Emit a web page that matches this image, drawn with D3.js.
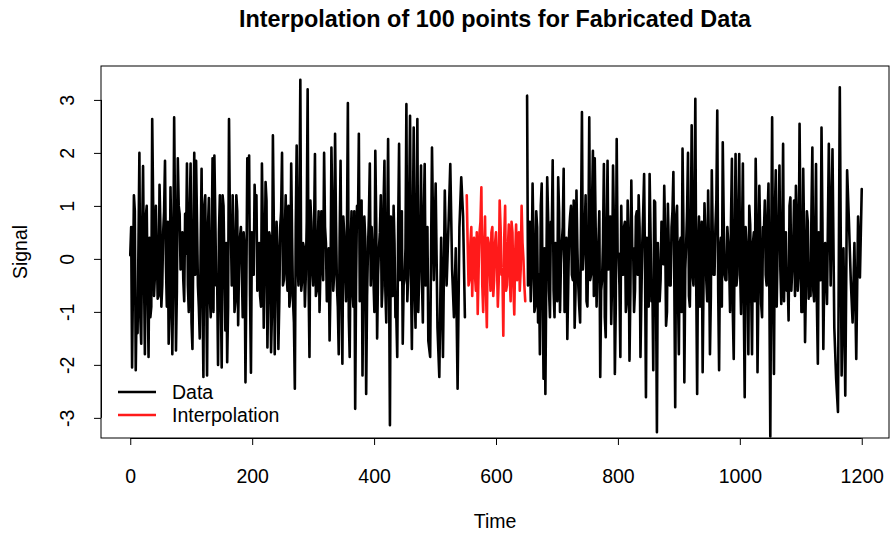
<!DOCTYPE html>
<html>
<head>
<meta charset="utf-8">
<script src="https://cdn.jsdelivr.net/npm/d3@7"></script>
<style>
  body { margin: 0; background: #fff; }
  text { font-family: "Liberation Sans", Arial, Helvetica, sans-serif; fill: #000; }
</style>
</head>
<body>
<div id="chart"></div>
<script>
// values: the spikes every 3 time units,
// plus the in-between values of the dense band 1.5 units later
var timeStep = 3;
var dataStartA = 0;
var interpStart = 552;
var dataStartB = 651;

var signalA = [
  0.07, -2.05, 1.2, -2.1, -1.4, 2.0, -1.6, 1.75, -1.8, 1.0, -1.85, -1.1, 2.64, -0.7, 1.0, -0.75, 1.4, -0.9, 0.5, 1.85,
  -0.9, -1.6, 1.35, -1.8, 2.67, -1.73, 1.9, 0.85, 0.0, -0.4, 0.85, 1.8, -1.0, 1.8, -1.7, 2.0,
  1.85, -0.5, -1.5, 1.7, -2.23, 1.2, -2.2, 1.15, -1.1, 1.9, 1.95, -0.5, -2.0, 1.2, -2.05, 1.0, -1.35, -1.95, 2.64, 0.6,
  1.2, -1.0, 1.2, -1.25, 0.4, -0.2, 0.5, -2.33, 1.9, 1.95, -2.15, 0.0, 1.4, 1.2, -0.1,
  -0.7, 1.8, -1.3, 1.45, -1.67, 0.5, -1.76, 2.33, -1.8, 0.7, -1.7, 0.6, 2.0, -0.4, 1.2, -0.6, -0.9, 1.8, -0.8, -2.45,
  2.14, -0.5, 3.38, -0.4, 0.2, -0.3, 3.2, -1.85, 0.7, -0.5, 1.98, -0.6, 0.9, -0.2, 0.0, 2.0,
  0.3, -0.8, -1.54, 2.1, -0.6, 2.36, -0.5, -1.8, 1.85, -1.98, 0.5, -0.8, 2.94, -1.85, 0.9, -0.9, -2.83, 1.0, 2.36, -0.3,
  -2.2, 0.8, -2.55, 0.2, 1.8, 0.6, -0.4, 2.04, -1.5, 0.2, 1.2, -0.5, 1.85, -1.2, 2.26, -3.14, 0.5,
  1.0, -1.1, -1.85, 2.17, 0.3, -1.6, -0.4, 2.92, -0.3, 2.7, -1.7, 2.48, -1.3, 2.64, -0.3, 1.76, -1.2, 1.79, 0.0, -1.55,
  -1.85, 2.1, -0.4, 1.42, -1.3, -2.23, 0.4, -1.85, 1.29, -0.5, 0.6, 1.79, -0.2, -1.1, 0.2, -2.45, 0.6, 1.54, 0.8, -1.1
];
var bandA = [
  0.6, -0.4, 0.9, -0.8, 0.3, -1.1, 0.5, -0.2, 0.8, -0.6, 0.4, -0.9, 1.1, -0.3, 0.2, -0.7, 0.6, -0.5, 0.9, -0.1,
  0.7, -1.0, 0.3, -0.4, 0.8, -0.6, 1.0, -0.2, 0.5, -0.8, 0.1, -0.5, 0.9, -1.2, 0.4, -0.3, 0.7, -0.9, 0.2, -0.6,
  1.0, -0.4, 0.6, -0.7, 0.2, -1.0, 0.8, -0.3, 0.5, -0.6, 1.2, -0.2, 0.3, -0.9, 0.7, -0.5, 0.4, -0.8, 0.9, -0.1,
  0.6, -1.1, 0.2, -0.4, 1.0, -0.7, 0.5, -0.3, 0.8, -0.6, 0.3, -0.9, 0.6, -0.2, 1.1, -0.5, 0.4, -1.0, 0.7, -0.3,
  0.2, -0.8, 0.9, -0.5, 0.5, -0.3, 1.0, -0.7, 0.4, -1.2, 0.6, -0.1, 0.8, -0.6, 0.3, -0.9, 0.7, -0.4, 1.1, -0.2,
  0.5, -0.7, 0.3, -1.0, 0.9, -0.4, 0.6, -0.8, 0.2, -0.5, 1.0, -0.3, 0.7, -0.9, 0.4, -0.6, 0.8, -0.2, 0.5, -1.1,
  0.3, -0.6, 0.9, -0.4, 0.6, -0.8, 1.1, -0.2, 0.4, -0.7, 0.8, -0.5, 0.2, -1.0, 0.7, -0.3, 0.5, -0.9, 1.0, -0.6,
  0.4, -0.2, 0.8, -0.7, 0.3, -1.1, 0.6, -0.4, 0.9, -0.5, 0.2, -0.8, 1.0, -0.3, 0.5, -0.6, 0.7, -1.0, 0.3, -0.4,
  0.8, -0.5, 0.6
];

var interpolated = [
  1.2, -0.5, 0.3, -0.7, 0.4, -0.6, -1.04, 0.5, 1.35, -1.0, 0.8, -1.29, 0.3, -0.6, 0.6, -0.4, 0.5, -0.9, 1.1, -0.3,
  -1.45, 1.0, -0.5, 0.65, -0.8, 0.5, -1.05, 0.65, -0.2, -0.6, 1.0, 0.0, -0.8
];
var interpBand = [
  0.3, -0.4, 0.6, 0.1, -0.3, 0.5, -0.2, 0.7, -0.5, 0.2, -0.6, 0.4, -0.1, 0.5, -0.7, 0.3, 0.0, -0.4, 0.6, -0.2,
  0.4, -0.6, 0.2, -0.3, 0.7, -0.5, 0.1, -0.4, 0.5, -0.2, 0.3, -0.5
];

var signalB = [
  3.08, -0.3, -0.8, 1.42, -1.0, 0.9, -1.2, -1.8, 1.42, -2.26, -2.55, 1.54, -0.6, 0.7, 1.86, -1.1, -0.2, 1.54, -1.0, 0.3,
  1.7, -0.3, -1.51, 0.5, 1.0, -0.4, -1.3, 1.29, -0.5, -1.2, 2.77, 0.2, 1.2, -0.9, 2.67, -0.3, 2.04,
  1.9, -0.9, 0.3, -2.23, -0.4, 1.79, -1.48, 1.85, 0.4, -1.23, 1.76, -2.17, 2.26, 0.1, -1.85, -0.3, 0.6, -1.0, 1.1, -1.92,
  1.48, 0.2, -0.6, 0.9, 1.2, -1.85, 0.3, 1.6, -2.61, 0.2, 1.6, -0.8, -2.1, 1.07, -3.27, -0.35,
  -0.4, 0.4, 1.38, -1.26, 1.04, -0.5, 0.6, 1.64, -2.8, 1.0, -1.8, 0.4, 2.08, -2.33, 0.3, 2.0, -0.9, 2.52, -0.5, 3.02,
  -2.55, 0.8, -0.5, -2.14, 1.05, -0.4, 1.29, -1.8, 1.67, -0.3, 0.6, 2.8, -2.1, 0.4, 2.2, -0.3, -0.4,
  0.3, -1.0, 1.89, -1.89, 1.98, -0.3, 1.98, -1.04, 1.8, -2.61, 0.3, -1.8, 0.65, -1.8, 0.5, 1.89, -2.14, 1.38, -0.85, 0.6,
  1.1, -0.5, 1.42, -3.35, 2.67, -2.17, 1.67, 0.2, 1.76, -0.85, 2.17, 0.3, -0.6, -1.16, 1.16, -0.2, 1.1,
  1.38, -0.6, 2.55, -1.0, 1.7, -1.57, 0.9, -0.75, -0.7, 2.1, -0.8, 1.79, -1.98, -0.2, 2.48, -1.7, 0.3, -0.85, 2.17, -0.5,
  2.07, -1.3, -2.26, -2.89, 3.24, -2.2, 0.2, -2.58, 1.67, 0.7, -0.4, -1.2, 0.3, -1.89, 0.8, -0.35, 1.32
];
var bandB = [
  -0.5, 0.7, -0.2, 0.4, -0.9, 0.6, -0.3, 1.0, -0.7, 0.2, -0.4, 0.8, -1.1, 0.5, -0.6, 0.3, -0.8, 0.9, -0.1, 0.6,
  -1.0, 0.4, -0.5, 0.8, -0.3, 1.1, -0.6, 0.2, -0.9, 0.7, -0.2, 0.5, -0.8, 0.3, -0.4, 1.0, -0.7, 0.6, -0.1, 0.9,
  -0.6, 0.3, -1.1, 0.5, -0.2, 0.8, -0.4, 0.6, -0.9, 0.1, -0.5, 1.0, -0.3, 0.7, -0.8, 0.4, -0.6, 0.2, -1.0, 0.8,
  -0.3, 0.6, -0.7, 0.9, -0.2, 0.4, -0.9, 0.5, -0.4, 1.1, -0.6, 0.3, -0.8, 0.7, -0.1, 0.5, -1.0, 0.2, -0.5, 0.9,
  -0.4, 0.8, -0.6, 0.3, -1.0, 0.6, -0.2, 0.9, -0.7, 0.4, -0.3, 1.0, -0.5, 0.2, -0.9, 0.7, -0.4, 0.5, -0.8, 0.1,
  -0.7, 0.5, -0.3, 1.1, -0.6, 0.2, -0.9, 0.8, -0.4, 0.6, -0.1, 0.7, -1.0, 0.3, -0.5, 0.9, -0.2, 0.4, -0.8, 0.6,
  -0.2, 1.0, -0.5, 0.3, -0.8, 0.7, -0.6, 0.4, -1.1, 0.5, -0.3, 0.8, -0.7, 0.2, -0.4, 0.9, -0.9, 0.6, -0.2, 0.3,
  -0.8, 0.5, -0.4, 1.0, -0.6, 0.2, -0.7, 0.8, -0.3, 0.6, -1.0, 0.4, -0.5, 0.7, -0.2, 0.9, -0.6, 0.3, -0.9, 0.5,
  -0.4, 0.7, -0.3
];

var xTicks = [0, 200, 400, 600, 800, 1000, 1200];
var yTicks = [-3, -2, -1, 0, 1, 2, 3];
var legendLabels = ["Data", "Interpolation"];
var legendColors = ["#000000", "#ff1a1a"];

var width = 890;
var height = 536;
var box = { left: 101, right: 889, top: 66, bottom: 438 };
var fontSize = 19.5;

var svg = d3
  .select("#chart")
  .append("svg")
  .attr("width", width)
  .attr("height", height);

svg.append("rect").attr("width", width).attr("height", height).attr("fill", "#fff");

var xScale = d3.scaleLinear().domain([-48, 1248]).range([box.left, box.right + 2]);
var yScale = d3.scaleLinear().domain([-3.38, 3.64]).range([box.bottom, box.top]);

// spike values and band values alternate in time
function toPoints(spikes, band, start) {
  var pts = [];
  spikes.forEach(function(v, i) {
    pts.push({ t: start + i * timeStep, v: v });
    if (i < band.length && i < spikes.length - 1) {
      pts.push({ t: start + i * timeStep + timeStep / 2, v: band[i] });
    }
  });
  return pts;
}

var line = d3
  .line()
  .x(function(d) { return xScale(d.t); })
  .y(function(d) { return yScale(d.v); });

svg.append("clipPath").attr("id", "plotClip")
  .append("rect")
  .attr("x", box.left)
  .attr("y", box.top)
  .attr("width", box.right - box.left)
  .attr("height", box.bottom - box.top);

var plot = svg.append("g").attr("clip-path", "url(#plotClip)");

[toPoints(signalA, bandA, dataStartA), toPoints(signalB, bandB, dataStartB)].forEach(function(pts) {
  plot.append("path")
    .datum(pts)
    .attr("d", line)
    .attr("fill", "none")
    .attr("stroke", legendColors[0])
    .attr("stroke-width", 2.6)
    .attr("stroke-linejoin", "round")
    .attr("stroke-linecap", "round");
});

plot.append("path")
  .datum(toPoints(interpolated, interpBand, interpStart))
  .attr("d", line)
  .attr("fill", "none")
  .attr("stroke", legendColors[1])
  .attr("stroke-width", 2.6)
  .attr("stroke-linejoin", "round")
  .attr("stroke-linecap", "round");

// box
svg.append("rect")
  .attr("x", box.left)
  .attr("y", box.top)
  .attr("width", box.right - box.left)
  .attr("height", box.bottom - box.top)
  .attr("fill", "none")
  .attr("stroke", "#000")
  .attr("stroke-width", 1);

//x axis
var xAxis = d3.axisBottom(xScale).tickValues(xTicks).tickFormat(d3.format("d")).tickSize(7).tickPadding(0);
var gx = svg.append("g")
  .attr("transform", "translate(0," + box.bottom + ")")
  .call(xAxis);
gx.select(".domain").remove();
gx.selectAll("text")
  .attr("y", 45)
  .attr("dy", null)
  .attr("font-size", fontSize)
  .attr("font-family", null);
gx.selectAll("line").attr("stroke", "#000");
svg.append("line")
  .attr("x1", xScale(xTicks[0]))
  .attr("x2", xScale(xTicks[xTicks.length - 1]))
  .attr("y1", box.bottom + 0.5)
  .attr("y2", box.bottom + 0.5)
  .attr("stroke", "#000");

//y axis, labels parallel to the axis like base R
var yAxis = d3.axisLeft(yScale).tickValues(yTicks).tickSize(7).tickPadding(0);
var gy = svg.append("g")
  .attr("transform", "translate(" + box.left + ",0)")
  .call(yAxis);
gy.select(".domain").remove();
gy.selectAll("line").attr("stroke", "#000");
gy.selectAll("text")
  .attr("x", null)
  .attr("dy", null)
  .attr("font-size", fontSize)
  .attr("font-family", null)
  .attr("text-anchor", "middle")
  .attr("transform", "translate(-27,0) rotate(-90)")
  .text(function(d) { return d; });
svg.append("line")
  .attr("x1", box.left + 0.5)
  .attr("x2", box.left + 0.5)
  .attr("y1", yScale(yTicks[0]))
  .attr("y2", yScale(yTicks[yTicks.length - 1]))
  .attr("stroke", "#000");

// titles
svg.append("text")
  .attr("x", (box.left + box.right) / 2)
  .attr("y", 27)
  .attr("text-anchor", "middle")
  .attr("font-size", 23.4)
  .attr("font-weight", "bold")
  .text("Interpolation of 100 points for Fabricated Data");

svg.append("text")
  .attr("x", (box.left + box.right) / 2)
  .attr("y", 528)
  .attr("text-anchor", "middle")
  .attr("font-size", fontSize)
  .text("Time");

svg.append("text")
  .attr("transform", "translate(27," + (box.top + box.bottom) / 2 + ") rotate(-90)")
  .attr("text-anchor", "middle")
  .attr("font-size", fontSize)
  .text("Signal");

// legend
var legend = svg.append("g").attr("transform", "translate(118,392)");
legendLabels.forEach(function(lbl, i) {
  legend.append("line")
    .attr("x1", 0)
    .attr("x2", 38)
    .attr("y1", i * 23)
    .attr("y2", i * 23)
    .attr("stroke", legendColors[i])
    .attr("stroke-width", 2.6);
  legend.append("text")
    .attr("x", 54)
    .attr("y", i * 23 + 7)
    .attr("font-size", fontSize)
    .text(lbl);
});
</script>
</body>
</html>
